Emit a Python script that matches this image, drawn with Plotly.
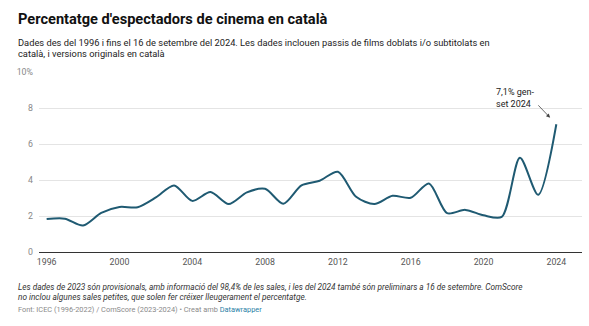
import plotly.graph_objects as go

years = list(range(1996, 2025))
share_pct = [1.83, 1.85, 1.47, 2.17, 2.50, 2.49, 3.03, 3.70, 2.84, 3.33,
             2.66, 3.31, 3.51, 2.68, 3.70, 3.96, 4.46, 3.07, 2.66, 3.12,
             3.01, 3.81, 2.16, 2.34, 2.04, 1.95, 5.24, 3.18, 7.1]

x_ticks = [1996, 2000, 2004, 2008, 2012, 2016, 2020, 2024]
y_ticks = [0, 2, 4, 6, 8, 10]
y_tick_text = ["0", "2", "4", "6", "8", "10%"]

title = "Percentatge d'espectadors de cinema en català"
subtitle_lines = ["Dades des del 1996 i fins el 16 de setembre del 2024. Les dades inclouen passis de films doblats i/o subtitolats en",
                  "català, i versions originals en català"]
note_lines = ["Les dades de 2023 són provisionals, amb informació del 98,4% de les sales, i les del 2024 també són preliminars a 16 de setembre. ComScore",
              "no inclou algunes sales petites, que solen fer créixer lleugerament el percentatge."]
source = "Font: ICEC (1996-2022) / ComScore (2023-2024) • Creat amb <span style='color:#2a7fa6'>Datawrapper</span>"
callout = "7,1% gen-<br>set 2024"

FONT = "Roboto"
W, H = 589, 326
L, R, TOP, BOTTOM = 39, 582, 72.3, 251.7

fig = go.Figure()
fig.add_trace(go.Scatter(
    x=years, y=share_pct, mode="lines",
    line=dict(color="#1f5a72", width=2, shape="spline", smoothing=0.8),
    hoverinfo="x+y", showlegend=False,
))

pw = R - L
ph = BOTTOM - TOP


def px(x):
    return (x - L) / pw


def py(y):
    return (BOTTOM - y) / ph


paper = dict(xref="paper", yref="paper", showarrow=False, xanchor="left", yanchor="middle", align="left")

# callout text and its arrow to the 2024 point
fig.add_annotation(text=callout, x=px(494), y=py(98),
                   font=dict(family=FONT, size=9, color="#222"), **paper)
fig.add_annotation(
    x=years[-1], y=share_pct[-1], xref="x", yref="y", text=" ",
    showarrow=True, ax=-21, ay=-22, axref="pixel", ayref="pixel",
    arrowhead=2, arrowsize=1, arrowwidth=0.8, arrowcolor="#444", standoff=9,
)

fig.add_annotation(text="<b>" + title + "</b>", x=px(15.5), y=py(19),
                   font=dict(family=FONT, size=14.6, color="#111"), **paper)
for i, line in enumerate(subtitle_lines):
    fig.add_annotation(text=line, x=px(16), y=py(42.5 + 11 * i),
                       font=dict(family=FONT, size=9.3, color="#222"), **paper)
for i, line in enumerate(note_lines):
    fig.add_annotation(text="<i>" + line + "</i>", x=px(16), y=py(286.5 + 10 * i),
                       font=dict(family=FONT, size=8.25, color="#333"), **paper)
fig.add_annotation(text=source, x=px(16), y=py(309),
                   font=dict(family=FONT, size=7.4, color="#8a8a8a"), **paper)

fig.update_layout(
    width=W, height=H,
    margin=dict(l=L, r=W - R, t=TOP, b=H - BOTTOM, pad=0),
    paper_bgcolor="white", plot_bgcolor="white",
    font=dict(family=FONT),
    xaxis=dict(range=[1995.58, 2025.41], tickvals=x_ticks, ticktext=[str(t) for t in x_ticks],
               showgrid=False, zeroline=False, showline=False, ticks="",
               ticklabelstandoff=3,
               tickfont=dict(family=FONT, size=8.8, color="#555"), fixedrange=True),
    yaxis=dict(range=[0, 10], tickvals=y_ticks, ticktext=y_tick_text,
               showgrid=True, gridcolor="#e4e4e4", gridwidth=1, zeroline=True,
               zerolinecolor="#333", zerolinewidth=1, showline=False, ticks="",
               ticklabelstandoff=5,
               tickfont=dict(family=FONT, size=8.8, color="#888"), fixedrange=True),
)

fig.write_html("out.html", config={"displayModeBar": False})
